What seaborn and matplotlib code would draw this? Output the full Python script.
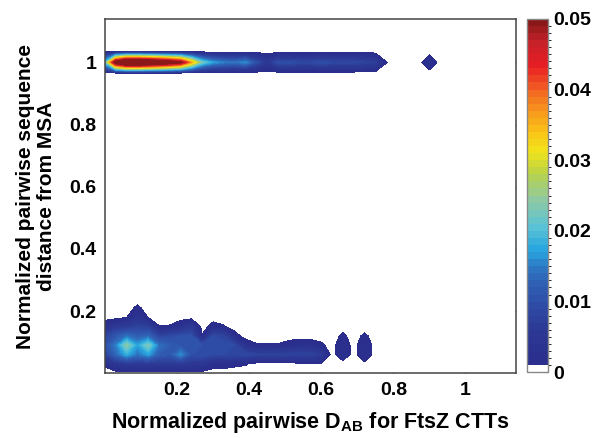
import numpy as np
import matplotlib
matplotlib.use("Agg")
import matplotlib.pyplot as plt
from matplotlib.colors import ListedColormap, LinearSegmentedColormap, BoundaryNorm
from matplotlib.cm import ScalarMappable
import seaborn as sns

# grid (x step 0.03)
x_vals = np.round(np.arange(39) * 0.03, 2)
bottom_y = [0.0, 0.03, 0.06, 0.09, 0.12, 0.15, 0.18, 0.21, 0.24]
top_y = [0.965, 1.0, 1.035]

# density columns of the lower band, one list per x value (rows = bottom_y)
bottom_density = [
    [0, 0.0015, 0.008, 0.010, 0.008, 0.003, 0, 0, 0],         # 0.00
    [0, 0.005, 0.013, 0.015, 0.011, 0.006, 0, 0, 0],          # 0.03
    [0, 0.006, 0.018, 0.024, 0.014, 0.006, 0.0009, 0, 0],     # 0.06
    [0, 0.006, 0.014, 0.017, 0.012, 0.008, 0.004, 0.0015, 0], # 0.09
    [0, 0.006, 0.017, 0.023, 0.013, 0.007, 0.0009, 0, 0],     # 0.12
    [0, 0.006, 0.012, 0.014, 0.008, 0.0011, 0, 0, 0],         # 0.15
    [0, 0.006, 0.011, 0.012, 0.009, 0.0012, 0, 0, 0],         # 0.18
    [0, 0.006, 0.016, 0.011, 0.010, 0.003, 0, 0, 0],          # 0.21
    [0, 0.005, 0.010, 0.011, 0.010, 0.006, 0, 0, 0],          # 0.24
    [0, 0.005, 0.010, 0.010, 0.0012, 0, 0, 0, 0],             # 0.27
    [0, 0.002, 0.009, 0.010, 0.009, 0.002, 0, 0, 0],          # 0.30
    [0, 0.002, 0.009, 0.010, 0.008, 0.0012, 0, 0, 0],         # 0.33
    [0, 0.0015, 0.009, 0.009, 0.002, 0, 0, 0, 0],             # 0.36
    [0, 0.0012, 0.009, 0.003, 0, 0, 0, 0, 0],                 # 0.39
    [0, 0.0002, 0.008, 0.00125, 0, 0, 0, 0, 0],               # 0.42
    [0, 0, 0.008, 0.0012, 0, 0, 0, 0, 0],                     # 0.45
    [0, 0, 0.008, 0.0012, 0, 0, 0, 0, 0],                     # 0.48
    [0, 0, 0.008, 0.002, 0, 0, 0, 0, 0],                      # 0.51
    [0, 0.0005, 0.008, 0.003, 0, 0, 0, 0, 0],                 # 0.54
    [0, 0.0008, 0.008, 0.0026, 0, 0, 0, 0, 0],                # 0.57
    [0, 0.001, 0.006, 0.0015, 0, 0, 0, 0, 0],                 # 0.60
    [0, 0, 0, 0, 0, 0, 0, 0, 0],                              # 0.63
    [0, 0, 0.003, 0.003, 0.0015, 0, 0, 0, 0],                 # 0.66
    [0, 0, 0, 0, 0, 0, 0, 0, 0],                              # 0.69
    [0, 0.0005, 0.003, 0.003, 0.0015, 0, 0, 0, 0],            # 0.72
]

# density along y = 1 (upper band), x = 0 .. 0.90
top_density = [0.020, 0.055, 0.066, 0.066, 0.063, 0.060, 0.056, 0.051, 0.036,
               0.022, 0.017, 0.015, 0.014, 0.016, 0.010, 0.005, 0.010, 0.010,
               0.009, 0.009, 0.010, 0.009, 0.009, 0.009, 0.008, 0.007, 0.0011,
               0, 0, 0, 0.0033]

cbar_ticks = [0, 0.01, 0.02, 0.03, 0.04, 0.05]
cbar_labels = ['0', '0.01', '0.02', '0.03', '0.04', '0.05']
x_ticks = [0.2, 0.4, 0.6, 0.8, 1]
y_ticks = [0.2, 0.4, 0.6, 0.8, 1]
tick_labels = ['0.2', '0.4', '0.6', '0.8', '1']

# assemble the field
y_vals = np.array(bottom_y + top_y + [1.14])
Z = np.zeros((len(y_vals), len(x_vals)))
bd = np.array(bottom_density).T
Z[:len(bottom_y), :bd.shape[1]] = bd
Z[len(bottom_y) + 1, :len(top_density)] = top_density

sns.set_style("ticks")
plt.rcParams['font.family'] = ['Liberation Sans', 'DejaVu Sans']
plt.rcParams['font.weight'] = 'bold'
plt.rcParams['text.color'] = 'black'
plt.rcParams['axes.labelcolor'] = 'black'
plt.rcParams['xtick.color'] = 'black'
plt.rcParams['ytick.color'] = 'black'
plt.rcParams['mathtext.fontset'] = 'custom'
plt.rcParams['mathtext.rm'] = 'Liberation Sans:bold'
plt.rcParams['mathtext.bf'] = 'Liberation Sans:bold'

# jet-like map as printed in the figure
jet_print = LinearSegmentedColormap.from_list('jet_print', [
    (0.00, '#2b2e8c'), (0.10, '#2c3a96'), (0.18, '#2f4fa8'),
    (0.26, '#2f6cbc'), (0.33, '#28a6df'), (0.40, '#5cc4d6'),
    (0.48, '#8fc9a0'), (0.56, '#bdd443'), (0.62, '#f1e41c'),
    (0.68, '#fbc116'), (0.75, '#f6901e'), (0.80, '#f26522'),
    (0.87, '#e91d25'), (0.94, '#c8222a'), (1.00, '#8a1818')])
levels = np.round(np.arange(0, 0.0505, 0.001), 4)
colors = ['white'] + [jet_print(i / 48) for i in range(49)]
cmap = ListedColormap(colors)
cmap.set_over('#8a1818')

fig = plt.figure(figsize=(5.93, 4.38), dpi=100)
ax = fig.add_axes([0.177, 0.148, 0.693, 0.809])
cax = fig.add_axes([0.889, 0.150, 0.035, 0.807])

cf = ax.contourf(x_vals, y_vals, Z, levels=levels, cmap=cmap,
                 vmin=0, vmax=0.05, extend='max')

ax.set_xlim(0, 1.14)
ax.set_ylim(0, 1.14)
ax.set_xticks(x_ticks)
ax.set_xticklabels(tick_labels)
ax.set_yticks(y_ticks)
ax.set_yticklabels(tick_labels)
ax.tick_params(direction='in', top=True, right=True, length=4, width=1,
               color='#444444', labelsize=14, pad=6)
for s in ax.spines.values():
    s.set_color('#444444')
    s.set_linewidth(1.1)
ax.set_xlabel(r'Normalized pairwise D$_{\mathrm{AB}}$ for FtsZ CTTs',
              fontsize=15.5, fontweight='bold', labelpad=8)
ax.set_ylabel('Normalized pairwise sequence\ndistance from MSA',
              fontsize=15, fontweight='bold', labelpad=10, linespacing=1.1)

sm = ScalarMappable(norm=BoundaryNorm(levels, cmap.N), cmap=cmap)
cb = fig.colorbar(sm, cax=cax, ticks=cbar_ticks)
cb.ax.set_yticklabels(cbar_labels)
cb.ax.tick_params(direction='in', length=3, color='#777777', labelsize=14)
cb.outline.set_edgecolor('#888888')
cb.outline.set_linewidth(1)

fig.savefig('out.png', dpi=100)
